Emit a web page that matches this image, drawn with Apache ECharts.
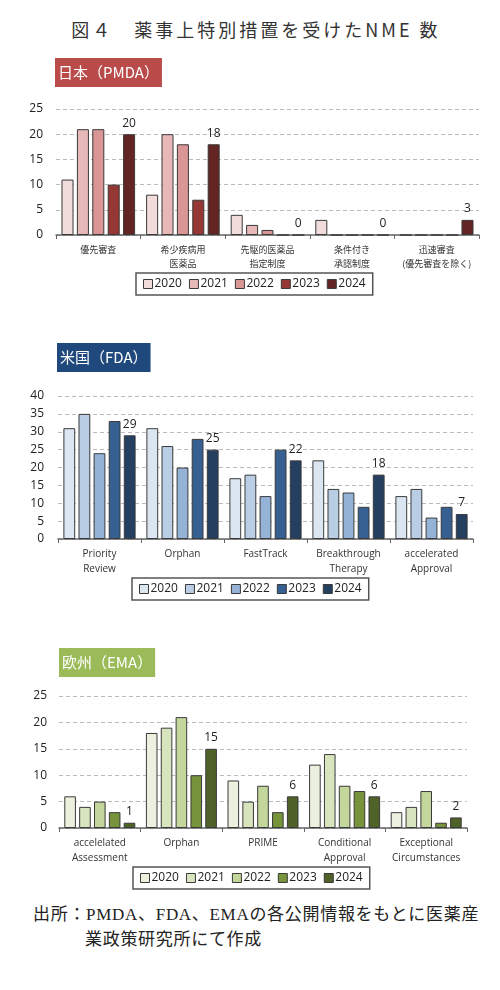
<!DOCTYPE html>
<html>
<head>
<meta charset="utf-8">
<script src="https://cdn.jsdelivr.net/npm/echarts@6/dist/echarts.min.js"></script>
<style>
  body { margin: 0; background: #fff; width: 500px; height: 990px; position: relative; overflow: hidden; }
  .ttl { position: absolute; left: 0; width: 512px; top: 16px; text-align: center; font-family: "Noto Sans CJK JP"; font-size: 18px; letter-spacing: 3px; color: #333; }
  .chart { position: absolute; left: 0; width: 500px; }
  .src { position: absolute; left: 33px; top: 902px; white-space: nowrap; font-family: "Liberation Serif", "Noto Sans CJK JP"; font-size: 17px; letter-spacing: 0.7px; line-height: 25px; color: #222; }
  .src span { padding-left: 52px; }
</style>
</head>
<body>
<div class="ttl">図４　薬事上特別措置を受けたNME 数</div>
<div id="jp" class="chart" style="top:50px;height:260px"></div>
<div id="us" class="chart" style="top:340px;height:270px"></div>
<div id="eu" class="chart" style="top:640px;height:260px"></div>
<div class="src">出所：PMDA、FDA、EMAの各公開情報をもとに医薬産<br><span>業政策研究所にて作成</span></div>
<script>
// 年
var years = ['2020', '2021', '2022', '2023', '2024'];

// 日本（PMDA）
var jpCats = ['優先審査', '希少疾病用\n医薬品', '先駆的医薬品\n指定制度', '条件付き\n承認制度', '迅速審査\n(優先審査を除く)'];
var jp2020 = [11, 8, 4, 3, 0];
var jp2021 = [21, 20, 2, 0, 0];
var jp2022 = [21, 18, 1, 0, 0];
var jp2023 = [10, 7, 0, 0, 0];
var jp2024 = [20, 18, 0, 0, 3];
var jpColors = ['#f2dcdb', '#e6b9b8', '#d99694', '#953735', '#632523'];

// 米国（FDA）
var usCats = ['Priority\nReview', 'Orphan', 'FastTrack', 'Breakthrough\nTherapy', 'accelerated\nApproval'];
var us2020 = [31, 31, 17, 22, 12];
var us2021 = [35, 26, 18, 14, 14];
var us2022 = [24, 20, 12, 13, 6];
var us2023 = [33, 28, 25, 9, 9];
var us2024 = [29, 25, 22, 18, 7];
var usColors = ['#dce6f2', '#b9cde5', '#95b3d7', '#376092', '#243f60'];

// 欧州（EMA）
var euCats = ['accelelated\nAssessment', 'Orphan', 'PRIME', 'Conditional\nApproval', 'Exceptional\nCircumstances'];
var eu2020 = [6, 18, 9, 12, 3];
var eu2021 = [4, 19, 5, 14, 4];
var eu2022 = [5, 21, 8, 8, 7];
var eu2023 = [3, 10, 3, 7, 1];
var eu2024 = [1, 15, 6, 6, 2];
var euColors = ['#ebf1de', '#d7e4bd', '#c3d69b', '#77933c', '#4f6228'];

function makeChart(id, cfg) {
  var chart = echarts.init(document.getElementById(id), null, { renderer: 'canvas' });
  var series = cfg.data.map(function (d, i) {
    return {
      name: years[i],
      type: 'bar',
      data: d,
      barGap: '28%',
      barCategoryGap: '13%',
      itemStyle: { color: cfg.colors[i], borderColor: '#3a3a3a', borderWidth: 1 },
      label: {
        show: i === 4,
        position: 'top',
        distance: 5,
        fontFamily: 'Open Sans',
        fontSize: 12,
        color: '#222'
      }
    };
  });
  var option = {
    animation: false,
    textStyle: { fontFamily: '"Open Sans", "Noto Sans CJK JP"' },
    title: {
      text: cfg.header,
      left: cfg.hLeft,
      top: cfg.hTop,
      padding: [7, 3, 7, 3],
      backgroundColor: cfg.hColor,
      textStyle: { color: '#fff', fontSize: 15, fontWeight: 'normal', fontFamily: '"Noto Sans CJK JP"' }
    },
    grid: cfg.grid,
    legend: {
      data: years,
      left: cfg.lLeft,
      top: cfg.lTop,
      itemWidth: 9,
      itemHeight: 9,
      itemGap: 7,
      padding: [5, 7, 5, 7],
      borderColor: '#555',
      borderWidth: 1.5,
      icon: 'rect',
      itemStyle: { borderColor: '#3a3a3a', borderWidth: 1 },
      textStyle: { fontSize: 12, color: '#222', padding: [0, 0, 0, -3] }
    },
    xAxis: {
      type: 'category',
      data: cfg.cats,
      axisLine: { lineStyle: { color: '#666', width: 1.5 } },
      axisTick: { show: true, length: 4, lineStyle: { color: '#666' } },
      axisLabel: {
        fontSize: cfg.catSize,
        lineHeight: cfg.catSize + 5,
        color: '#333',
        margin: 8,
        interval: 0,
        fontFamily: cfg.catFont
      }
    },
    yAxis: {
      type: 'value',
      min: 0,
      max: cfg.max,
      interval: 5,
      axisLine: { show: false },
      axisTick: { show: false },
      axisLabel: { fontSize: 12, color: '#222', margin: cfg.yMargin },
      splitLine: { lineStyle: { color: '#bbb', type: [4, 3], width: 1 } }
    },
    series: series
  };
  chart.setOption(option);
  return chart;
}

makeChart('jp', {
  header: '日本（PMDA）', hLeft: 55, hTop: 8, hColor: '#b94c4b',
  cats: jpCats, data: [jp2020, jp2021, jp2022, jp2023, jp2024], colors: jpColors,
  grid: { left: 56, right: 21, top: 59, height: 126 },
  max: 25, yMargin: 13, catSize: 9, catFont: '"Noto Sans CJK JP"',
  lLeft: 136, lTop: 223
});

makeChart('us', {
  header: '米国（FDA）', hLeft: 57, hTop: 3, hColor: '#1f497d',
  cats: usCats, data: [us2020, us2021, us2022, us2023, us2024], colors: usColors,
  grid: { left: 58, right: 27, top: 56, height: 143 },
  max: 40, yMargin: 14, catSize: 10, catFont: '"Open Sans"',
  lLeft: 132, lTop: 238
});

makeChart('eu', {
  header: '欧州（EMA）', hLeft: 59, hTop: 8, hColor: '#9bbb59',
  cats: euCats, data: [eu2020, eu2021, eu2022, eu2023, eu2024], colors: euColors,
  grid: { left: 59, right: 33, top: 56, height: 132 },
  max: 25, yMargin: 12, catSize: 10, catFont: '"Open Sans"',
  lLeft: 133, lTop: 227
});
</script>
</body>
</html>
